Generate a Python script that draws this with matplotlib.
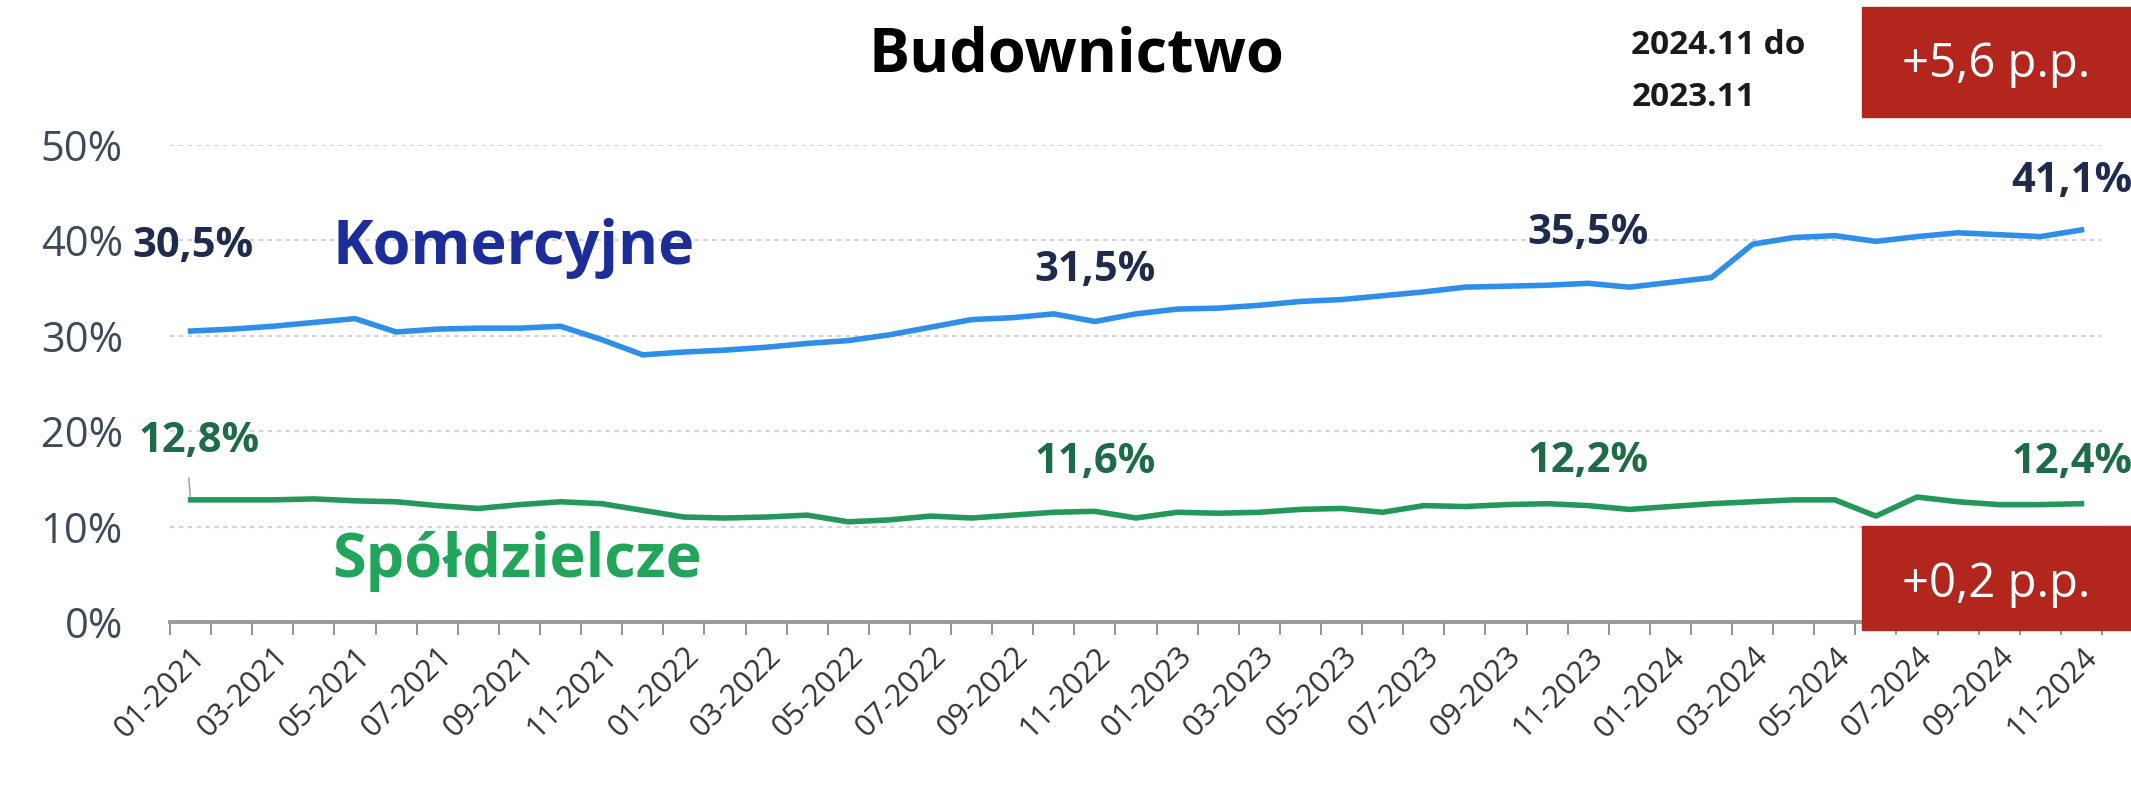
import numpy as np
import matplotlib
matplotlib.use("Agg")
import matplotlib.pyplot as plt

plt.rcParams['font.family'] = ['Open Sans', 'DejaVu Sans']

# months 01-2021 .. 11-2024
months = [f"{m:02d}-{y}" for y in range(2021, 2025) for m in range(1, 13)][:47]

komercyjne = [30.5, 30.7, 31.0, 31.4, 31.8, 30.4, 30.7, 30.8, 30.8, 31.0,
              29.6, 28.0, 28.3, 28.5, 28.8, 29.2, 29.5, 30.1, 30.9, 31.7,
              31.9, 32.3, 31.5, 32.3, 32.8, 32.9, 33.2, 33.6, 33.8, 34.2,
              34.6, 35.1, 35.2, 35.3, 35.5, 35.1, 35.6, 36.1, 39.6, 40.3,
              40.5, 39.9, 40.4, 40.8, 40.6, 40.4, 41.1]

spoldzielcze = [12.8, 12.8, 12.8, 12.9, 12.7, 12.6, 12.2, 11.9, 12.3, 12.6,
                12.4, 11.7, 11.0, 10.9, 11.0, 11.2, 10.5, 10.7, 11.1, 10.9,
                11.2, 11.5, 11.6, 10.9, 11.5, 11.4, 11.5, 11.8, 11.9, 11.5,
                12.2, 12.1, 12.3, 12.4, 12.2, 11.8, 12.1, 12.4, 12.6, 12.8,
                12.8, 11.1, 13.1, 12.6, 12.3, 12.3, 12.4]

# indices with value labels
label_idx = [0, 22, 34, 46]
kom_offsets = [(2, 61), (0, 37), (0, 36), (-7, 35)]   # points from the point
spo_offsets = [(6, 42), (0, 35), (0, 32), (-7, 30)]

blue = '#2F8FE8'
green = '#23985A'
blue_txt = '#1F2B4D'
green_txt = '#1E6B48'

fig = plt.figure(figsize=(21.31, 7.89), dpi=100)
ax = fig.add_axes([0.0798, 0.2117, 0.9066, 0.6045])

x = np.arange(len(months))
ax.plot(x, komercyjne, color=blue, lw=4, solid_joinstyle='round')
ax.plot(x, spoldzielcze, color=green, lw=4, solid_joinstyle='round')

ax.set_xlim(-0.5, len(months) - 0.5)
ax.set_ylim(0, 50)

# grid
ax.set_yticks([0, 10, 20, 30, 40, 50])
ax.set_yticklabels([f"{v}%" for v in [0, 10, 20, 30, 40, 50]],
                   fontsize=30, color='#3D4A5C')
ax.tick_params(axis='y', length=0, pad=34)
for v in [10, 20, 30, 40, 50]:
    ax.axhline(v, color='#d4d4d4', lw=1.6, ls=(0, (2, 2)), zorder=0)

# x axis
ax.set_xticks(x[::2])
ax.set_xticklabels(months[::2], rotation=45, ha='right', va='top',
                   rotation_mode='anchor', fontsize=22, color='#333333')
ax.tick_params(axis='x', which='major', length=0, pad=14)
ax.set_xticks(np.arange(-0.5, len(months), 1), minor=True)
ax.tick_params(axis='x', which='minor', length=9, width=1.3, color='#8a8a8a')

for s in ['top', 'right', 'left']:
    ax.spines[s].set_visible(False)
ax.spines['bottom'].set_color('#9a9a9a')
ax.spines['bottom'].set_linewidth(2.8)

# value labels
for i, off in zip(label_idx, kom_offsets):
    ax.annotate(f"{komercyjne[i]:.1f}%".replace('.', ','), (x[i], komercyjne[i]),
                xytext=off, textcoords='offset points', ha='center',
                va='center', fontsize=30, fontweight='bold', color=blue_txt)
for i, off in zip(label_idx, spo_offsets):
    ax.annotate(f"{spoldzielcze[i]:.1f}%".replace('.', ','), (x[i], spoldzielcze[i]),
                xytext=off, textcoords='offset points', ha='center',
                va='center', fontsize=30, fontweight='bold', color=green_txt)
# small leader line at the first green label
ax.annotate('', (x[0], spoldzielcze[0]), xytext=(x[0] - 0.05, spoldzielcze[0] + 2.6),
            arrowprops=dict(arrowstyle='-', color='#999999', lw=1))

# series names
fig.text(0.156, 1 - 249 / 789, 'Komercyjne', fontsize=44, fontweight='bold',
         color='#1C2C98', ha='left', va='center')
fig.text(0.156, 1 - 561 / 789, 'Spółdzielcze', fontsize=44, fontweight='bold',
         color='#20A55A', ha='left', va='center')

# title
fig.text(0.505, 1 - 56 / 789, 'Budownictwo', fontsize=44, fontweight='bold',
         color='black', ha='center', va='center')

# change boxes
fig.text(0.7655, 1 - 46 / 789, '2024.11 do', fontsize=24, fontweight='bold',
         color='#1a1a1a', ha='left', va='center')
fig.text(0.7655, 1 - 98 / 789, '2023.11', fontsize=24, fontweight='bold',
         color='#1a1a1a', ha='left', va='center')

red = '#B3261E'
fig.patches.append(plt.Rectangle((1862 / 2131, 1 - 117 / 789), 269 / 2131, 110 / 789,
                                 transform=fig.transFigure, color=red, zorder=5))
fig.text(1996 / 2131, 1 - 64 / 789, '+5,6 p.p.', fontsize=34, color='white',
         ha='center', va='center', zorder=6)
fig.patches.append(plt.Rectangle((1862 / 2131, 1 - 630 / 789), 269 / 2131, 104 / 789,
                                 transform=fig.transFigure, color=red, zorder=5))
fig.text(1996 / 2131, 1 - 584 / 789, '+0,2 p.p.', fontsize=34, color='white',
         ha='center', va='center', zorder=6)

fig.savefig('out.png', dpi=100, facecolor='white')
